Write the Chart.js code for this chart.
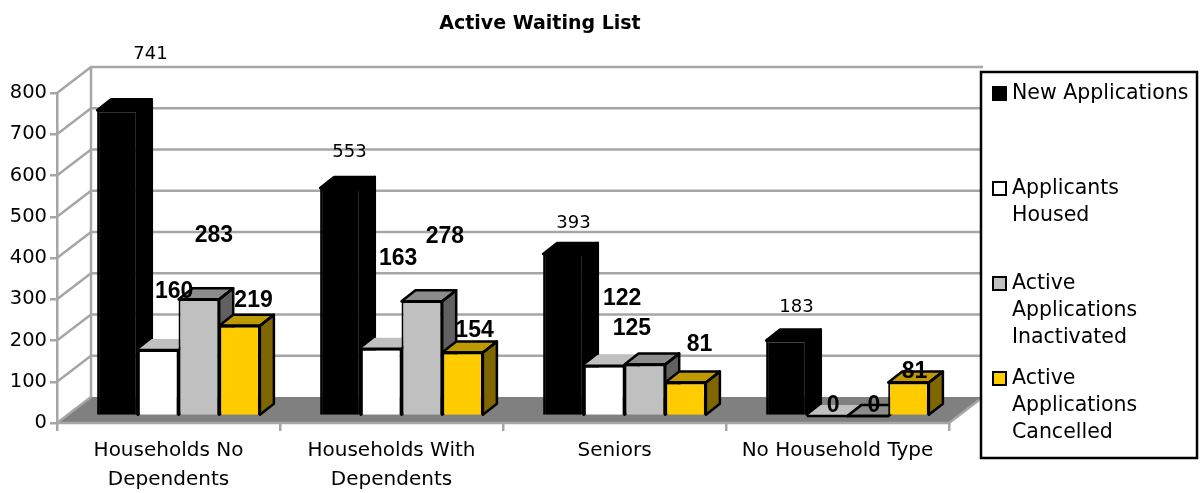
<!DOCTYPE html>
<html>
<head>
<meta charset="utf-8">
<title>Active Waiting List</title>
<style>
  html, body { margin: 0; padding: 0; background: #fff; }
  canvas { display: block; }
</style>
<script src="https://cdn.jsdelivr.net/npm/chart.js@4/dist/chart.umd.min.js"></script>
</head>
<body>
<canvas id="waitingChart" width="1204" height="493"></canvas>
<script>
// data
var categories = [
  ["Households No", "Dependents"],
  ["Households With", "Dependents"],
  "Seniors",
  "No Household Type"
];
var newApplications = [741, 553, 393, 183];
var applicantsHoused = [160, 163, 122, 0];
var activeInactivated = [283, 278, 125, 0];
var activeCancelled = [219, 154, 81, 81];
var yTicks = [0, 100, 200, 300, 400, 500, 600, 700, 800];

var legendLines = [
  ["New Applications"],
  ["Applicants", "Housed"],
  ["Active", "Applications", "Inactivated"],
  ["Active", "Applications", "Cancelled"]
];

var FONT = '"DejaVu Sans", sans-serif';
var GRID = "#a6a6a6";

// the old chart puts its data labels all over the place, so nudge each one [dx, dy]
var labelNudge = [
  [[33, -56], [9, -36], [10, -31], [10, -33]],
  [[16, -58], [17, -90], [18, -67], [6, -10]],
  [[15, -64], [23, -65], [-13, -36], [6, -10]],
  [[14, -25], [12, -22], [14, -38], [6, -11]]
];

// top / side face colours per series
var faceColors = [
  { top: "#000000", side: "#000000", outline: true },
  { top: "#c0c0c0", side: "#808080", outline: false },
  { top: "#8c8c8c", side: "#606060", outline: true },
  { top: "#bf9900", side: "#7f6600", outline: true }
];

function poly(ctx, pts, fill, outline) {
  ctx.beginPath();
  ctx.moveTo(pts[0][0], pts[0][1]);
  for (var i = 1; i < pts.length; i++) ctx.lineTo(pts[i][0], pts[i][1]);
  ctx.closePath();
  ctx.fillStyle = fill;
  ctx.fill();
  if (outline) {
    ctx.lineWidth = 2.5;
    ctx.strokeStyle = "#000";
    ctx.stroke();
  }
}

// back wall, side wall and floor, built on the y scale
var wallsPlugin = {
  id: "walls",
  beforeDatasetsDraw: function (chart) {
    var ctx = chart.ctx, a = chart.chartArea, y = chart.scales.y;
    var wx = 34, wy = -26;
    ctx.save();
    // floor
    ctx.beginPath();
    ctx.moveTo(a.left, a.bottom);
    ctx.lineTo(a.left + wx, a.bottom + wy);
    ctx.lineTo(a.right + wx, a.bottom + wy);
    ctx.lineTo(a.right, a.bottom);
    ctx.closePath();
    ctx.fillStyle = "#808080";
    ctx.fill();

    ctx.strokeStyle = GRID;
    ctx.lineWidth = 2.5;
    ctx.beginPath();
    yTicks.forEach(function (t) {
      var p = y.getPixelForValue(t);
      ctx.moveTo(a.left, p);
      ctx.lineTo(a.left + wx, p + wy);
      if (t > 0) ctx.lineTo(a.right + wx, p + wy);
    });
    // back corner
    ctx.moveTo(a.left + wx, a.top + wy);
    ctx.lineTo(a.left + wx, a.bottom + wy);
    // front edge of the floor
    ctx.moveTo(a.left, a.bottom);
    ctx.lineTo(a.right, a.bottom);
    ctx.lineTo(a.right + wx, a.bottom + wy);
    ctx.stroke();
    ctx.restore();
  }
};

// fake 3d bars: faces first, the fronts come from chart.js on top
var bars3dPlugin = {
  id: "bars3d",
  beforeDatasetsDraw: function (chart) {
    var ctx = chart.ctx;
    var dx = 14, dy = -11;
    ctx.save();
    ctx.translate(10, -7);
    ctx.lineJoin = "round";
    chart.data.labels.forEach(function (label, c) {
      chart.data.datasets.forEach(function (ds, i) {
        var bar = chart.getDatasetMeta(i).data[c];
        var l = bar.x - bar.width / 2, r = bar.x + bar.width / 2;
        var t = bar.y, b = bar.base;
        var f = faceColors[i];
        poly(ctx, [[r, t], [r + dx, t + dy], [r + dx, b + dy], [r, b]], f.side, true);
        poly(ctx, [[l, t], [l + dx, t + dy], [r + dx, t + dy], [r, t]], f.top, f.outline);
        // front and right edge of the top, needed on the zero bars
        ctx.beginPath();
        ctx.moveTo(l, t);
        ctx.lineTo(r, t);
        ctx.lineTo(r + dx, t + dy);
        ctx.lineWidth = 2.5;
        ctx.strokeStyle = "#000";
        ctx.stroke();
      });
    });
  },
  afterDatasetsDraw: function (chart) {
    chart.ctx.restore();
  }
};

var valueLabelsPlugin = {
  id: "valueLabels",
  afterDatasetsDraw: function (chart) {
    var ctx = chart.ctx;
    ctx.save();
    ctx.textAlign = "center";
    ctx.textBaseline = "middle";
    ctx.fillStyle = "#000";
    chart.data.datasets.forEach(function (ds, i) {
      ctx.font = i === 0 ? "18px " + FONT : 'bold 23px "Liberation Sans", sans-serif';
      ds.data.forEach(function (v, c) {
        var bar = chart.getDatasetMeta(i).data[c];
        var n = labelNudge[i][c];
        ctx.fillText(String(v), bar.x + 10 + n[0], bar.y - 7 + n[1]);
      });
    });
    ctx.restore();
  }
};

var legendBoxPlugin = {
  id: "legendBox",
  afterLayout: function (chart) {
    // title is centred over plot + legend, not only the plot
    chart.titleBlock.left = 0;
    chart.titleBlock.right = 1080;
  },
  afterDraw: function (chart) {
    var ctx = chart.ctx;
    ctx.save();
    ctx.fillStyle = "#fff";
    ctx.fillRect(981, 72, 216, 386);
    ctx.strokeStyle = "#000";
    ctx.lineWidth = 2.5;
    ctx.strokeRect(981, 72, 216, 386);
    ctx.font = "20.5px " + FONT;
    ctx.textBaseline = "middle";
    chart.data.datasets.forEach(function (ds, i) {
      var y = 93 + i * 95;
      ctx.fillStyle = ds.backgroundColor;
      ctx.strokeStyle = "#000";
      ctx.lineWidth = 2;
      ctx.fillRect(993, y - 6, 13, 13);
      ctx.strokeRect(993, y - 6, 13, 13);
      ctx.fillStyle = "#000";
      legendLines[i].forEach(function (line, j) {
        ctx.fillText(line, 1012, y + 1 + j * 26.7);
      });
    });
    ctx.restore();
  }
};

new Chart(document.getElementById("waitingChart").getContext("2d"), {
  type: "bar",
  data: {
    labels: categories,
    datasets: [
      { label: "New Applications", data: newApplications, backgroundColor: "#000000" },
      { label: "Applicants Housed", data: applicantsHoused, backgroundColor: "#ffffff" },
      { label: "Active Applications Inactivated", data: activeInactivated, backgroundColor: "#c0c0c0" },
      { label: "Active Applications Cancelled", data: activeCancelled, backgroundColor: "#ffcc00" }
    ].map(function (d) {
      d.borderColor = "#000000";
      d.borderWidth = 2;
      d.categoryPercentage = 0.73;
      d.barPercentage = 1;
      d.clip = false;
      return d;
    })
  },
  options: {
    responsive: false,
    animation: false,
    layout: { padding: { left: 0, right: 255, top: 0, bottom: 0 } },
    plugins: {
      legend: { display: false },
      tooltip: { enabled: false },
      title: {
        display: true,
        text: "Active Waiting List",
        color: "#000",
        font: { family: FONT, size: 19, weight: "bold", lineHeight: 1.2 },
        padding: { top: 13, bottom: 57.2 }
      }
    },
    scales: {
      x: {
        afterFit: function (scale) { scale.height = 70; },
        border: { display: false },
        grid: { drawOnChartArea: false, color: GRID, lineWidth: 2.5, tickLength: 8 },
        ticks: {
          color: "#000",
          autoSkip: false,
          maxRotation: 0,
          padding: 5,
          font: { family: FONT, size: 20, lineHeight: 1.45 }
        }
      },
      y: {
        min: 0,
        max: 800,
        afterFit: function (scale) { scale.width = 57; },
        afterBuildTicks: function (scale) {
          scale.ticks = yTicks.map(function (v) { return { value: v }; });
        },
        border: { color: GRID, width: 2.5 },
        grid: { drawOnChartArea: false, color: GRID, lineWidth: 2.5, tickLength: 7 },
        ticks: {
          color: "#000",
          padding: 3,
          font: { family: FONT, size: 19.5 }
        }
      }
    }
  },
  plugins: [wallsPlugin, bars3dPlugin, valueLabelsPlugin, legendBoxPlugin]
});
</script>
</body>
</html>
